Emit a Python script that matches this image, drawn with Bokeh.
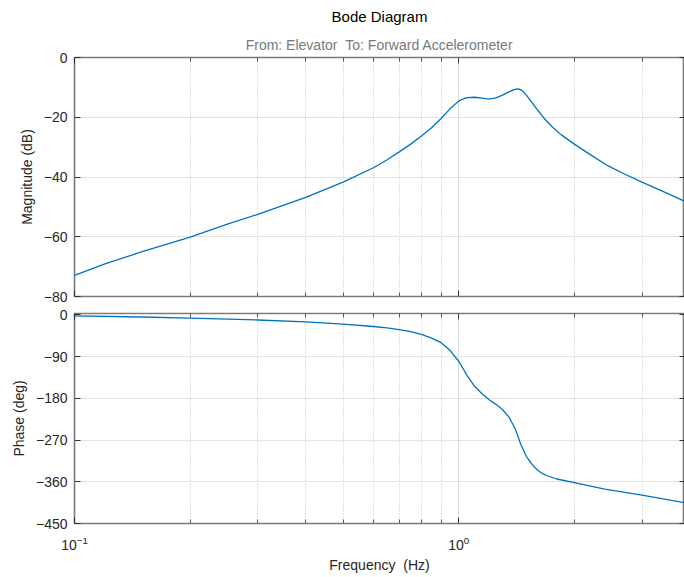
from bokeh.plotting import figure
from bokeh.models import FixedTicker, LogAxis, LinearAxis, Title, LogTickFormatter
from bokeh.layouts import column
from bokeh.embed import file_html
from bokeh.resources import INLINE

# Frequency response of the elevator -> forward accelerometer channel
mag_freq = [0.1, 0.12, 0.15, 0.2, 0.25, 0.3, 0.4, 0.5, 0.6, 0.65, 0.7, 0.75,
            0.8, 0.85, 0.9, 0.95, 1.0, 1.025, 1.05, 1.1, 1.15, 1.2, 1.25,
            1.3, 1.35, 1.4, 1.43, 1.46, 1.48, 1.5, 1.55, 1.6, 1.67, 1.75,
            1.85, 2.0, 2.2, 2.45, 2.7, 3.0, 3.4, 3.87]
mag_db = [-72.9, -69.1, -65.0, -60.1, -55.8, -52.5, -46.8, -41.7, -36.9,
          -34.3, -31.6, -29.0, -26.3, -23.5, -20.4, -17.1, -14.6, -13.9,
          -13.4, -13.3, -13.6, -13.9, -13.5, -12.6, -11.5, -10.7, -10.5,
          -11.0, -11.7, -12.6, -15.0, -17.4, -20.4, -23.2, -25.9, -29.0,
          -32.5, -36.3, -39.0, -41.7, -44.8, -48.1]

phase_freq = [0.1, 0.15, 0.2, 0.3, 0.4, 0.5, 0.6, 0.65, 0.7, 0.75, 0.8, 0.85,
              0.9, 0.95, 1.0, 1.025, 1.05, 1.1, 1.15, 1.2, 1.25, 1.3, 1.35,
              1.4, 1.425, 1.45, 1.5, 1.55, 1.6, 1.65, 1.7, 1.8, 2.0, 2.4,
              3.0, 3.87]
phase_deg = [-2.0, -4.5, -7.0, -11.0, -15.0, -20.0, -25.0, -28.0, -32.0,
             -36.0, -42.0, -50.0, -60.0, -77.0, -100.0, -115.0, -130.0,
             -154.0, -170.0, -183.0, -193.0, -204.0, -220.0, -244.0, -261.0,
             -279.0, -305.0, -322.0, -334.0, -342.0, -347.0, -354.0, -362.0,
             -376.0, -389.0, -405.0]

decade_ticks = [0.1, 1.0]
minor_freq_ticks = [0.2, 0.3, 0.4, 0.5, 0.6, 0.7, 0.8, 0.9, 2.0, 3.0]
mag_ticks = [-80, -60, -40, -20, 0]
phase_ticks = [-450, -360, -270, -180, -90, 0]

FONT = "Liberation Sans"
TEXT = "#262626"
FRAME = "#7a7a7a"
LINE = "#0072BD"
X_RANGE = (0.1, 3.87)


def freq_ticker():
    return FixedTicker(ticks=decade_ticks, minor_ticks=minor_freq_ticks)


def hide_labels(ax):
    ax.major_label_text_font_size = "1px"
    ax.major_label_text_alpha = 0
    ax.major_label_standoff = 0


def inward_x_ticks(ax):
    ax.axis_line_color = None
    ax.major_tick_in = 6
    ax.major_tick_out = 0
    ax.minor_tick_in = 4
    ax.minor_tick_out = 0
    ax.major_tick_line_color = "#333333"
    ax.minor_tick_line_color = "#555555"


def style_panel(p, yticks, ylabel):
    xb = p.below[0]
    yl = p.left[0]

    p.outline_line_color = FRAME
    p.outline_line_width = 1.6
    p.background_fill_color = "white"
    p.border_fill_color = "white"

    # grid: solid at decades / y ticks, dotted at minor frequencies
    p.ygrid.ticker = FixedTicker(ticks=yticks)
    p.ygrid.grid_line_color = "#e2e2e2"
    p.ygrid.grid_line_width = 1
    p.xgrid.ticker = freq_ticker()
    p.xgrid.grid_line_color = "#dcdcdc"
    p.xgrid.grid_line_width = 1
    p.xgrid.minor_grid_line_color = "#c4c4c4"
    p.xgrid.minor_grid_line_dash = "1 2"
    p.xgrid.minor_grid_line_width = 1

    yl.ticker = FixedTicker(ticks=yticks)
    yl.axis_label = ylabel
    yl.axis_label_text_font = FONT
    yl.axis_label_text_font_size = "14px"
    yl.axis_label_text_font_style = "normal"
    yl.axis_label_text_color = TEXT
    yl.axis_label_standoff = 6
    yl.major_label_text_font = FONT
    yl.major_label_text_font_size = "14px"
    yl.major_label_text_color = TEXT
    yl.major_label_standoff = 7
    yl.axis_line_color = None
    yl.major_tick_in = 6
    yl.major_tick_out = 0
    yl.major_tick_line_color = "#333333"
    yl.minor_tick_line_color = None

    xb.ticker = freq_ticker()
    inward_x_ticks(xb)

    # ticks on the right edge, without labels
    r = LinearAxis(ticker=FixedTicker(ticks=yticks))
    hide_labels(r)
    r.axis_line_color = None
    r.major_tick_in = 5
    r.major_tick_out = 0
    r.major_tick_line_color = "#333333"
    r.minor_tick_line_color = None
    p.add_layout(r, "right")

    # ticks along the top edge, without labels
    t = LogAxis(ticker=freq_ticker())
    hide_labels(t)
    inward_x_ticks(t)
    p.add_layout(t, "above")
    return xb


# magnitude panel
mag = figure(width=684, height=305, x_axis_type="log", x_range=X_RANGE,
             y_range=(-80, 0), output_backend="svg", toolbar_location=None,
             min_border_left=74, min_border_right=0,
             min_border_top=56, min_border_bottom=9)
mag_x = style_panel(mag, mag_ticks, "Magnitude (dB)")
hide_labels(mag_x)
mag.title.text = "Bode Diagram"
mag.title.align = "center"
mag.title.text_font = FONT
mag.title.text_font_size = "15px"
mag.title.text_font_style = "normal"
mag.title.text_color = "#000000"
mag.add_layout(Title(text="From: Elevator \u00a0To: Forward Accelerometer",
                     align="center", text_font=FONT, text_font_size="14px",
                     text_font_style="normal", text_color="#7a7a7a"), "above")
mag.line(mag_freq, mag_db, line_color=LINE, line_width=1.3)

# phase panel
ph = figure(width=684, height=272, x_axis_type="log", x_range=X_RANGE,
            y_range=(-450, 3), output_backend="svg", toolbar_location=None,
            min_border_left=74, min_border_right=0,
            min_border_top=8, min_border_bottom=54)
xa = style_panel(ph, phase_ticks, "Phase (deg)")
xa.formatter = LogTickFormatter()
xa.major_label_text_font = FONT
xa.major_label_text_font_size = "14px"
xa.major_label_text_color = TEXT
xa.major_label_standoff = 12
xa.axis_label = "Frequency \u00a0(Hz)"
xa.axis_label_text_font = FONT
xa.axis_label_text_font_size = "14px"
xa.axis_label_text_font_style = "normal"
xa.axis_label_text_color = TEXT
xa.axis_label_standoff = 4
ph.line(phase_freq, phase_deg, line_color=LINE, line_width=1.3)

layout = column(mag, ph, spacing=0)
open("out.html", "w").write(file_html(layout, INLINE))
